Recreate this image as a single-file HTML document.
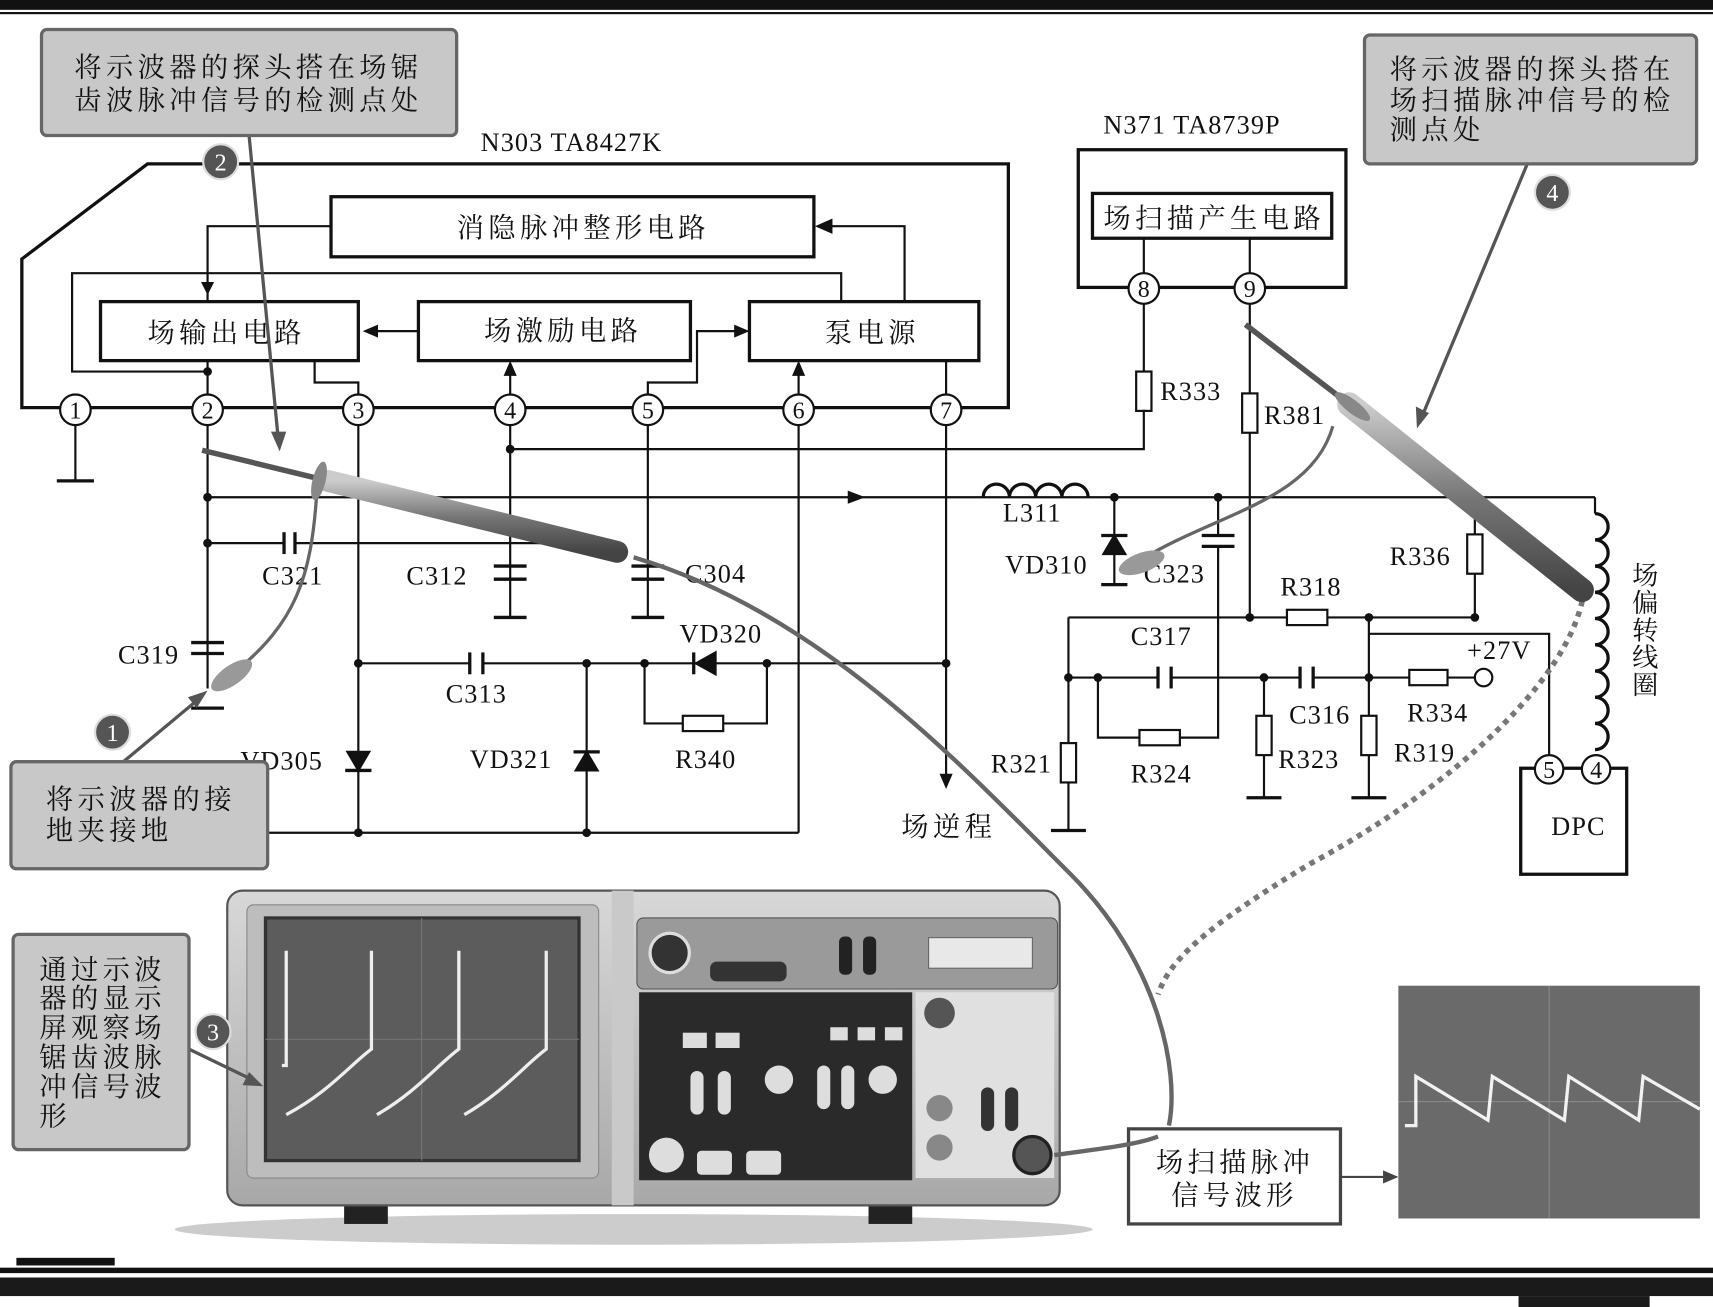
<!DOCTYPE html>
<html><head><meta charset="utf-8"><style>
html,body{margin:0;padding:0;background:#fff;}
svg{display:block;}
text{font-family:"Liberation Serif","Noto Serif CJK SC",serif;fill:#111;}
.cn{font-family:"Liberation Sans","Noto Sans CJK SC",sans-serif;letter-spacing:4px;}
</style></head><body>
<svg width="1713" height="1307" viewBox="0 0 1568 1196" preserveAspectRatio="none" xmlns="http://www.w3.org/2000/svg">
<defs>
<linearGradient id="body" x1="0" y1="0" x2="0" y2="1"><stop offset="0" stop-color="#d8d8d8"/><stop offset="1" stop-color="#a8a8a8"/></linearGradient>
<linearGradient id="probe" x1="0" y1="0" x2="0" y2="1"><stop offset="0" stop-color="#ccc"/><stop offset="0.5" stop-color="#777"/><stop offset="1" stop-color="#444"/></linearGradient>
</defs>
<rect x="0" y="0" width="1568" height="9" fill="#111"/>
<rect x="0" y="11" width="1568" height="2" fill="#111"/>
<rect x="15" y="1151" width="90" height="7" fill="#111"/>
<rect x="0" y="1160" width="1568" height="5" fill="#111"/>
<rect x="0" y="1169" width="1568" height="17" fill="#1a1a1a"/>
<rect x="1390" y="1186" width="120" height="10" fill="#1a1a1a"/>

<g stroke="#111" stroke-width="2" fill="none">
<polygon points="20,237 135,150 923,150 923,373 20,373" stroke-width="3"/>
<rect x="303" y="180" width="442" height="55" stroke-width="3"/>
<rect x="92" y="276" width="236" height="54" stroke-width="3"/>
<rect x="383" y="276" width="249" height="54" stroke-width="3"/>
<rect x="686" y="276" width="210" height="54" stroke-width="3"/>
<polyline points="303,207 190,207 190,276"/>
<polyline points="828,276 828,207 750,207"/>
<polyline points="770,276 770,250 66,250 66,340 190,340"/>
<polyline points="383,303 335,303"/>
<polyline points="593,361 593,350 638,350 638,303 680,303"/>
<polyline points="288,330 288,350 328,350 328,361"/>
<line x1="467" y1="361" x2="467" y2="336"/>
<line x1="731" y1="361" x2="731" y2="336"/>
<line x1="866" y1="330" x2="866" y2="361"/>
<line x1="190" y1="330" x2="190" y2="361"/>
<rect x="987" y="137" width="245" height="126" stroke-width="3"/>
<rect x="1000" y="177" width="219" height="41" stroke-width="3"/>
<line x1="1047" y1="218" x2="1047" y2="250"/>
<line x1="1144" y1="218" x2="1144" y2="250"/>
<polyline points="69,389 69,440"/><line x1="52" y1="440" x2="86" y2="440" stroke-width="3"/>
<line x1="190" y1="389" x2="190" y2="630"/>
<line x1="190" y1="455" x2="1460" y2="455"/>
<line x1="190" y1="497" x2="260" y2="497"/>
<line x1="270" y1="497" x2="500" y2="497"/>
<line x1="260" y1="487" x2="260" y2="507" stroke-width="3"/><line x1="270" y1="487" x2="270" y2="507" stroke-width="3"/>
<line x1="175" y1="588" x2="205" y2="588" stroke-width="3"/><line x1="175" y1="598" x2="205" y2="598" stroke-width="3"/>
<line x1="175" y1="648" x2="205" y2="648" stroke-width="3"/>
<line x1="328" y1="389" x2="328" y2="762"/>
<line x1="245" y1="762" x2="731" y2="762"/>
<line x1="731" y1="389" x2="731" y2="762"/>
<line x1="467" y1="389" x2="467" y2="565"/>
<line x1="452" y1="518" x2="482" y2="518" stroke-width="3"/><line x1="452" y1="530" x2="482" y2="530" stroke-width="3"/>
<line x1="452" y1="565" x2="482" y2="565" stroke-width="3"/>
<polyline points="467,411 1047,411 1047,375"/>
<line x1="593" y1="389" x2="593" y2="565"/>
<line x1="578" y1="518" x2="608" y2="518" stroke-width="3"/><line x1="578" y1="530" x2="608" y2="530" stroke-width="3"/>
<line x1="578" y1="565" x2="608" y2="565" stroke-width="3"/>
<line x1="866" y1="389" x2="866" y2="710"/>
<line x1="328" y1="607" x2="430" y2="607"/><line x1="442" y1="607" x2="866" y2="607"/>
<line x1="430" y1="597" x2="430" y2="617" stroke-width="3"/><line x1="442" y1="597" x2="442" y2="617" stroke-width="3"/>
<polyline points="590,607 590,662 625,662"/><polyline points="662,662 702,662 702,607"/>
<rect x="625" y="655" width="37" height="14"/>
<polygon points="655,597 655,617 637,607" fill="#111"/><line x1="635" y1="597" x2="635" y2="617" stroke-width="3"/>
<line x1="537" y1="607" x2="537" y2="762"/>
<polygon points="527,705 547,705 537,688" fill="#111"/><line x1="525" y1="688" x2="549" y2="688" stroke-width="3"/>
<polygon points="318,688 338,688 328,705" fill="#111"/><line x1="316" y1="705" x2="340" y2="705" stroke-width="3"/>
<line x1="1047" y1="278" x2="1047" y2="340"/>
<rect x="1040" y="340" width="14" height="36"/>
<line x1="1144" y1="278" x2="1144" y2="360"/>
<rect x="1137" y="360" width="14" height="36"/>
<line x1="1144" y1="396" x2="1144" y2="565"/>
<path d="M900,455 a12,12 0 0 1 24,0 a12,12 0 0 1 24,0 a12,12 0 0 1 24,0 a12,12 0 0 1 24,0" stroke-width="3"/>
<line x1="1020" y1="455" x2="1020" y2="535"/>
<polygon points="1010,507 1030,507 1020,490" fill="#111"/><line x1="1008" y1="490" x2="1032" y2="490" stroke-width="3"/>
<line x1="1008" y1="535" x2="1032" y2="535" stroke-width="3"/>
<line x1="1115" y1="455" x2="1115" y2="490"/>
<line x1="1100" y1="490" x2="1130" y2="490" stroke-width="3"/><line x1="1100" y1="500" x2="1130" y2="500" stroke-width="3"/>
<polyline points="1115,500 1115,675 1080,675"/>
<line x1="978" y1="565" x2="1178" y2="565"/><line x1="1215" y1="565" x2="1350" y2="565"/>
<rect x="1178" y="558" width="37" height="14"/>
<line x1="1350" y1="525" x2="1350" y2="565"/>
<rect x="1343" y="489" width="14" height="36"/>
<line x1="1350" y1="455" x2="1350" y2="489"/>
<line x1="978" y1="565" x2="978" y2="680"/>
<rect x="971" y="680" width="14" height="36"/>
<line x1="978" y1="716" x2="978" y2="760"/><line x1="962" y1="760" x2="994" y2="760" stroke-width="3"/>
<line x1="978" y1="620" x2="1060" y2="620"/><line x1="1072" y1="620" x2="1190" y2="620"/>
<line x1="1060" y1="610" x2="1060" y2="630" stroke-width="3"/><line x1="1072" y1="610" x2="1072" y2="630" stroke-width="3"/>
<polyline points="1005,620 1005,675 1043,675"/><rect x="1043" y="668" width="37" height="14"/>
<line x1="1190" y1="610" x2="1190" y2="630" stroke-width="3"/><line x1="1202" y1="610" x2="1202" y2="630" stroke-width="3"/>
<line x1="1202" y1="620" x2="1290" y2="620"/><rect x="1290" y="613" width="35" height="14"/>
<line x1="1325" y1="620" x2="1350" y2="620"/><circle cx="1358" cy="620" r="8"/>
<line x1="1157" y1="620" x2="1157" y2="655"/><rect x="1150" y="655" width="14" height="36"/>
<line x1="1157" y1="691" x2="1157" y2="730"/><line x1="1141" y1="730" x2="1173" y2="730" stroke-width="3"/>
<line x1="1253" y1="565" x2="1253" y2="655"/><rect x="1246" y="655" width="14" height="36"/>
<line x1="1253" y1="691" x2="1253" y2="730"/><line x1="1237" y1="730" x2="1269" y2="730" stroke-width="3"/>
<polyline points="1253,580 1418,580 1418,690"/>
<line x1="1460" y1="455" x2="1460" y2="470"/>
<path d="M1460,470 a12,12 0 0 1 0,24 a12,12 0 0 1 0,24 a12,12 0 0 1 0,24 a12,12 0 0 1 0,24 M1460,566 a12,12 0 0 1 0,24 a12,12 0 0 1 0,24 a12,12 0 0 1 0,24 a12,12 0 0 1 0,24 a12,12 0 0 1 0,24" stroke-width="3"/>
<rect x="1392" y="703" width="97" height="97" stroke-width="3"/>
</g>
<g fill="#111">
<polygon points="190,270 184,258 196,258"/>
<polygon points="746,207 762,200 762,214"/>
<polygon points="332,303 346,297 346,309"/>
<polygon points="686,303 672,297 672,309"/>
<polygon points="467,330 461,344 473,344"/>
<polygon points="731,330 725,344 737,344"/>
<polygon points="792,455 776,449 776,461"/>
<polygon points="866,722 860,708 872,708"/>
</g>
<g fill="#111">
<circle cx="190" cy="340" r="4"/><circle cx="190" cy="455" r="4"/><circle cx="190" cy="497" r="4"/>
<circle cx="467" cy="411" r="4"/><circle cx="328" cy="607" r="4"/><circle cx="537" cy="607" r="4"/>
<circle cx="590" cy="607" r="4"/><circle cx="702" cy="607" r="4"/><circle cx="866" cy="607" r="4"/>
<circle cx="328" cy="762" r="4"/><circle cx="537" cy="762" r="4"/><circle cx="1020" cy="455" r="4"/>
<circle cx="1115" cy="455" r="4"/><circle cx="1144" cy="565" r="4"/><circle cx="1253" cy="565" r="4"/>
<circle cx="1350" cy="565" r="4"/><circle cx="978" cy="620" r="4"/><circle cx="1005" cy="620" r="4"/>
<circle cx="1157" cy="620" r="4"/><circle cx="1253" cy="620" r="4"/>
</g>
<g stroke="#111" stroke-width="2" fill="#fff">
<circle cx="69" cy="375" r="14"/><circle cx="190" cy="375" r="14"/><circle cx="328" cy="375" r="14"/>
<circle cx="467" cy="375" r="14"/><circle cx="593" cy="375" r="14"/><circle cx="731" cy="375" r="14"/>
<circle cx="866" cy="375" r="14"/><circle cx="1047" cy="264" r="14"/><circle cx="1144" cy="264" r="14"/>
<circle cx="1418" cy="704" r="13"/><circle cx="1461" cy="704" r="13"/>
</g>
<g font-size="22" text-anchor="middle">
<text x="69" y="383">1</text><text x="190" y="383">2</text><text x="328" y="383">3</text><text x="467" y="383">4</text>
<text x="593" y="383">5</text><text x="731" y="383">6</text><text x="866" y="383">7</text>
<text x="1047" y="272">8</text><text x="1144" y="272">9</text><text x="1418" y="712">5</text><text x="1461" y="712">4</text>
</g>
<g font-size="24" style="letter-spacing:1px">
<text x="440" y="138">N303 TA8427K</text><text x="1010" y="122">N371 TA8739P</text>
<text x="240" y="535">C321</text><text x="372" y="535">C312</text><text x="627" y="533">C304</text>
<text x="108" y="607">C319</text><text x="408" y="643">C313</text><text x="622" y="588">VD320</text>
<text x="220" y="704">VD305</text><text x="430" y="703">VD321</text><text x="618" y="703">R340</text>
<text x="1062" y="366">R333</text><text x="1157" y="388">R381</text><text x="918" y="477">L311</text>
<text x="920" y="525">VD310</text><text x="1047" y="533">C323</text><text x="1272" y="517">R336</text>
<text x="1172" y="545">R318</text><text x="1035" y="590">C317</text><text x="1343" y="603">+27V</text>
<text x="1180" y="662">C316</text><text x="1288" y="660">R334</text><text x="1170" y="703">R323</text>
<text x="1276" y="697">R319</text><text x="907" y="707">R321</text><text x="1035" y="716">R324</text>
<text x="1420" y="764">DPC</text>
</g>
<g class="cn" font-size="25">
<text x="418" y="217">消隐脉冲整形电路</text><text x="135" y="313">场输出电路</text>
<text x="443" y="311">场激励电路</text><text x="755" y="313">泵电源</text>
<text x="1010" y="208">场扫描产生电路</text><text x="825" y="765">场逆程</text>
</g>
<g class="cn" font-size="24"><text x="1494" y="535">场</text><text x="1494" y="560">偏</text><text x="1494" y="585">转</text><text x="1494" y="610">线</text><text x="1494" y="635">圈</text></g>

<ellipse cx="580" cy="1125" rx="420" ry="14" fill="#ccc"/>
<rect x="315" y="1095" width="40" height="25" fill="#222"/><rect x="795" y="1095" width="40" height="25" fill="#222"/>
<rect x="208" y="815" width="762" height="288" rx="14" fill="url(#body)" stroke="#555" stroke-width="2"/>
<rect x="226" y="828" width="322" height="250" rx="6" fill="#bdbdbd" stroke="#888"/>
<rect x="243" y="840" width="287" height="222" fill="#5c5c5c" stroke="#333" stroke-width="3"/>
<g stroke="#777" stroke-width="1">
<line x1="243" y1="951" x2="530" y2="951"/><line x1="386" y1="840" x2="386" y2="1062"/>
</g>
<path d="M262,1020 C300,1000 320,975 340,960 L340,870 M345,1020 C380,1000 400,975 420,960 L420,870 M425,1020 C460,1000 480,975 500,960 L500,870 M258,975 L262,975 L262,870" stroke="#eee" stroke-width="3" fill="none"/>
<rect x="560" y="815" width="20" height="288" fill="#c9c9c9"/>
<rect x="583" y="840" width="385" height="65" rx="6" fill="#9a9a9a" stroke="#555"/>
<circle cx="613" cy="872" r="18" fill="#333" stroke="#ddd" stroke-width="3"/>
<rect x="650" y="880" width="70" height="18" rx="6" fill="#333"/>
<rect x="850" y="858" width="95" height="28" fill="#e8e8e8" stroke="#666"/>
<rect x="768" y="857" width="12" height="35" rx="5" fill="#222"/><rect x="790" y="857" width="12" height="35" rx="5" fill="#222"/>
<rect x="585" y="908" width="250" height="172" fill="#2a2a2a"/>
<g fill="#ddd"><rect x="625" y="945" width="22" height="14"/><rect x="655" y="945" width="22" height="14"/>
<rect x="760" y="940" width="16" height="12"/><rect x="785" y="940" width="16" height="12"/><rect x="810" y="940" width="16" height="12"/>
<rect x="638" y="1053" width="32" height="22" rx="4"/><rect x="683" y="1053" width="32" height="22" rx="4"/>
<rect x="632" y="980" width="12" height="40" rx="6"/><rect x="657" y="980" width="12" height="40" rx="6"/>
<rect x="748" y="975" width="12" height="40" rx="6"/><rect x="770" y="975" width="12" height="40" rx="6"/>
<circle cx="713" cy="988" r="13"/><circle cx="808" cy="988" r="13"/><circle cx="610" cy="1057" r="16"/></g>
<rect x="838" y="908" width="127" height="170" fill="#e0e0e0"/>
<circle cx="860" cy="927" r="14" fill="#555"/><circle cx="860" cy="1014" r="12" fill="#888"/><circle cx="860" cy="1050" r="12" fill="#888"/>
<rect x="898" y="995" width="12" height="40" rx="6" fill="#333"/><rect x="920" y="995" width="12" height="40" rx="6" fill="#333"/>
<circle cx="945" cy="1057" r="17" fill="#555" stroke="#222" stroke-width="3"/>
<rect x="1280" y="902" width="276" height="213" fill="#6a6a6a"/>
<g stroke="#888" stroke-width="1">
<line x1="1280" y1="1008" x2="1556" y2="1008"/><line x1="1418" y1="902" x2="1418" y2="1115"/></g>
<path d="M1286,1030 L1296,1030 L1296,985 L1362,1025 L1366,985 L1432,1025 L1436,985 L1500,1025 L1504,985 L1556,1015" stroke="#f2f2f2" stroke-width="3" fill="none"/>
<rect x="1033" y="1033" width="194" height="87" fill="#fff" stroke="#444" stroke-width="3"/>
<g class="cn" font-size="25"><text x="1058" y="1072">场扫描脉冲</text><text x="1072" y="1102">信号波形</text></g>
<line x1="1227" y1="1077" x2="1268" y2="1077" stroke="#444" stroke-width="2"/>
<polygon points="1280,1077 1266,1071 1266,1083" fill="#444"/>

<path d="M580,510 C750,560 880,700 980,800 C1060,880 1080,980 1070,1030" stroke="#666" stroke-width="4" fill="none"/>
<path d="M965,1057 C1000,1052 1040,1048 1060,1040" stroke="#666" stroke-width="4" fill="none"/>
<path d="M1450,540 C1440,620 1330,720 1200,790 C1100,850 1070,880 1060,910" stroke="#777" stroke-width="5" stroke-dasharray="5,5" fill="none"/>
<path d="M290,450 C285,530 270,570 215,615" stroke="#666" stroke-width="3" fill="none"/>
<path d="M1220,390 C1200,460 1110,470 1040,515" stroke="#666" stroke-width="3" fill="none"/>
<g>
<line x1="185" y1="412" x2="300" y2="440" stroke="#555" stroke-width="5"/>
<line x1="300" y1="440" x2="565" y2="505" stroke="url(#probe)" stroke-width="20" stroke-linecap="round"/>
<ellipse cx="292" cy="440" rx="6" ry="18" fill="#888" transform="rotate(14 292 440)"/>
<line x1="1140" y1="297" x2="1235" y2="370" stroke="#555" stroke-width="5"/>
<line x1="1235" y1="370" x2="1448" y2="540" stroke="url(#probe)" stroke-width="22" stroke-linecap="round"/>
<ellipse cx="1238" cy="372" rx="6" ry="20" fill="#888" transform="rotate(-52 1238 372)"/>
<ellipse cx="212" cy="618" rx="22" ry="9" fill="#999" transform="rotate(-35 212 618)"/>
<ellipse cx="1045" cy="515" rx="22" ry="9" fill="#999" transform="rotate(-20 1045 515)"/>
</g>
<g stroke="#555" stroke-width="3" fill="none">
<line x1="228" y1="124" x2="255" y2="405"/>
<line x1="1398" y1="150" x2="1300" y2="385"/>
<line x1="113" y1="697" x2="185" y2="637"/>
<line x1="173" y1="960" x2="235" y2="990"/>
</g>
<g fill="#555"><polygon points="256,413 248,395 262,395"/><polygon points="1297,392 1296,372 1308,378"/>
<polygon points="190,632 180,648 172,638"/><polygon points="241,994 222,993 228,981"/></g>
<g fill="#c8c8c8" stroke="#666" stroke-width="3">
<rect x="38" y="27" width="380" height="97" rx="5"/>
<rect x="1249" y="32" width="304" height="118" rx="5"/>
<rect x="10" y="697" width="235" height="98" rx="5"/>
<rect x="12" y="855" width="161" height="197" rx="5"/>
</g>
<g class="cn" font-size="25">
<text x="68" y="70">将示波器的探头搭在场锯</text><text x="68" y="100">齿波脉冲信号的检测点处</text>
<text x="1272" y="72">将示波器的探头搭在</text><text x="1272" y="100">场扫描脉冲信号的检</text><text x="1272" y="127">测点处</text>
<text x="42" y="740">将示波器的接</text><text x="42" y="768">地夹接地</text>
<text x="36" y="896">通过示波</text><text x="36" y="922">器的显示</text><text x="36" y="949">屏观察场</text>
<text x="36" y="976">锯齿波脉</text><text x="36" y="1003">冲信号波</text><text x="36" y="1030">形</text>
</g>
<g fill="#555" stroke="#ddd" stroke-width="2">
<circle cx="202" cy="148" r="16"/><circle cx="1421" cy="176" r="16"/><circle cx="103" cy="670" r="16"/><circle cx="195" cy="944" r="16"/>
</g>
<g font-size="22" text-anchor="middle">
<text x="202" y="156" style="fill:#fff">2</text><text x="1421" y="184" style="fill:#fff">4</text>
<text x="103" y="678" style="fill:#fff">1</text><text x="195" y="952" style="fill:#fff">3</text>
</g>
</svg>
</body></html>
